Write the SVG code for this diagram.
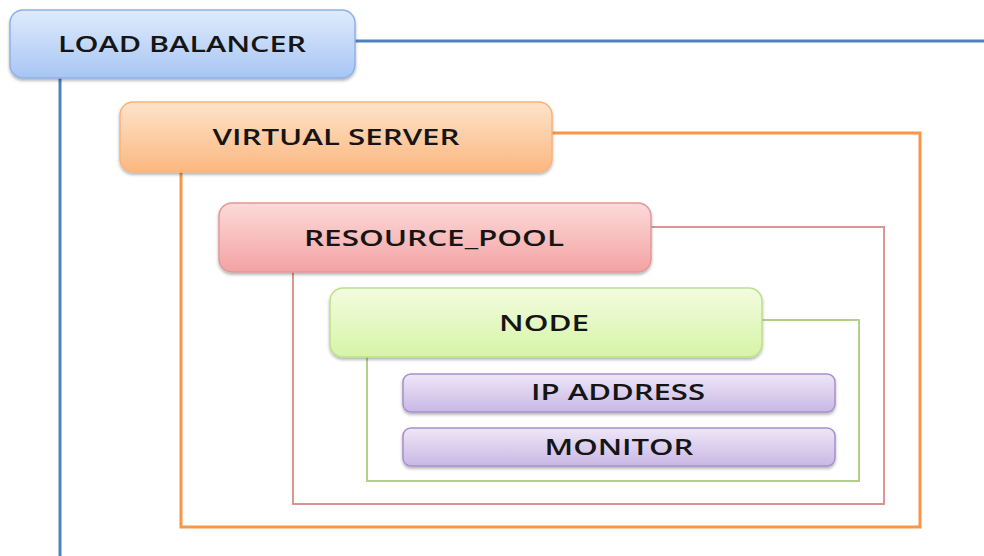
<svg xmlns="http://www.w3.org/2000/svg" width="984" height="556" viewBox="0 0 984 556">
<style>
.t{font-family:"Open Sans","Liberation Sans",sans-serif;font-size:21px;font-weight:600;fill:#151515;text-anchor:middle}
.c{fill:none}
</style>
<defs>
<linearGradient id="gb" x1="0" y1="0" x2="0" y2="1"><stop offset="0" stop-color="#e0ebfc"/><stop offset="1" stop-color="#a7c5f4"/></linearGradient>
<linearGradient id="go" x1="0" y1="0" x2="0" y2="1"><stop offset="0" stop-color="#fee3ca"/><stop offset="1" stop-color="#fbb880"/></linearGradient>
<linearGradient id="gr" x1="0" y1="0" x2="0" y2="1"><stop offset="0" stop-color="#fcdada"/><stop offset="1" stop-color="#f4a2a2"/></linearGradient>
<linearGradient id="gg" x1="0" y1="0" x2="0" y2="1"><stop offset="0" stop-color="#f3fce0"/><stop offset="1" stop-color="#d6f4a6"/></linearGradient>
<linearGradient id="gp" x1="0" y1="0" x2="0" y2="1"><stop offset="0" stop-color="#eee7f7"/><stop offset="1" stop-color="#c9b7e5"/></linearGradient>
<filter id="sh" x="-5%" y="-10%" width="110%" height="130%"><feDropShadow dx="0" dy="2" stdDeviation="1.5" flood-color="#000" flood-opacity="0.3"/></filter>
</defs>
<g id="connectors">
<path class="c" d="M355 41H984M60 78V556" stroke="#4f81bd" stroke-width="3"/>
<path class="c" d="M552 133H920V527H181V172" stroke="#f79646" stroke-width="3"/>
<path class="c" d="M651 227H884V504H293V272" stroke="#d99694" stroke-width="2"/>
<path class="c" d="M762 320H859V481H367V357" stroke="#b3d08a" stroke-width="2"/>
</g>
<g id="load-balancer">
<rect x="10" y="10" width="345" height="68" rx="13" fill="url(#gb)" stroke="#8fb1e6" stroke-width="1.5" filter="url(#sh)"/>
<text class="t" x="182" y="52" textLength="248" lengthAdjust="spacingAndGlyphs">LOAD BALANCER</text>
</g>
<g id="virtual-server">
<rect x="120" y="102" width="432" height="70" rx="13" fill="url(#go)" stroke="#f9b47c" stroke-width="1.5" filter="url(#sh)"/>
<text class="t" x="336" y="145" textLength="247" lengthAdjust="spacingAndGlyphs">VIRTUAL SERVER</text>
</g>
<g id="resource-pool">
<rect x="219" y="203" width="432" height="69" rx="13" fill="url(#gr)" stroke="#e29999" stroke-width="1.5" filter="url(#sh)"/>
<text class="t" x="434" y="246" textLength="260" lengthAdjust="spacingAndGlyphs">RESOURCE_POOL</text>
</g>
<g id="node">
<rect x="330" y="288" width="432" height="69" rx="13" fill="url(#gg)" stroke="#bde08c" stroke-width="1.5" filter="url(#sh)"/>
<text class="t" x="544" y="331" textLength="90" lengthAdjust="spacingAndGlyphs">NODE</text>
</g>
<g id="ip-address">
<rect x="403" y="374" width="432" height="38" rx="8" fill="url(#gp)" stroke="#a590cc" stroke-width="1.5" filter="url(#sh)"/>
<text class="t" x="618" y="400" textLength="174" lengthAdjust="spacingAndGlyphs">IP ADDRESS</text>
</g>
<g id="monitor">
<rect x="403" y="428" width="432" height="38" rx="8" fill="url(#gp)" stroke="#a590cc" stroke-width="1.5" filter="url(#sh)"/>
<text class="t" x="619" y="455" textLength="149" lengthAdjust="spacingAndGlyphs">MONITOR</text>
</g>
</svg>
